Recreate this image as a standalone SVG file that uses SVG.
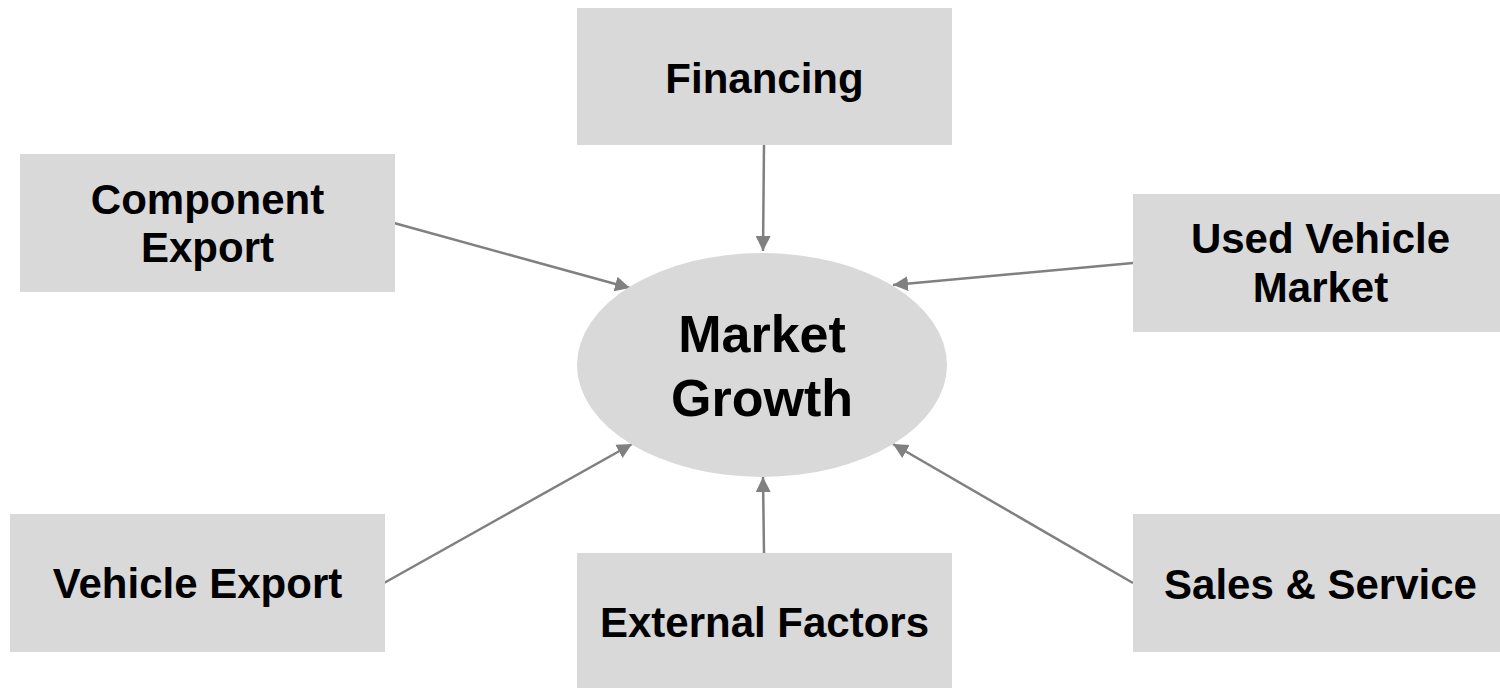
<svg xmlns="http://www.w3.org/2000/svg" width="1500" height="688" viewBox="0 0 1500 688">
<style>
.box{fill:#d9d9d9;}
.lbl{font-family:"Liberation Sans",Arial,sans-serif;font-weight:bold;font-size:42px;fill:#000;text-anchor:middle;}
.big{font-size:52px;}
.conn{stroke:#808080;stroke-width:2.5;fill:none;marker-end:url(#ah);}
</style>
<defs>
<marker id="ah" markerUnits="userSpaceOnUse" markerWidth="16" markerHeight="16" viewBox="0 0 16 16" refX="15" refY="8" orient="auto">
<path d="M0,0.5 L15,8 L0,15.5 Z" fill="#808080"/>
</marker>
</defs>
<rect width="1500" height="688" fill="#ffffff"/>
<g id="connectors">
<line class="conn" x1="764" y1="145" x2="763" y2="251"/>
<line class="conn" x1="394" y1="223" x2="630" y2="288"/>
<line class="conn" x1="1133" y1="263" x2="893" y2="285"/>
<line class="conn" x1="384" y1="583" x2="632" y2="444"/>
<line class="conn" x1="1133" y1="583" x2="893" y2="444"/>
<line class="conn" x1="764" y1="553" x2="763" y2="477"/>
</g>
<g id="market-growth">
<ellipse class="box" cx="762" cy="365" rx="185" ry="112"/>
<text class="lbl big" x="762" y="352">Market</text>
<text class="lbl big" x="762" y="416">Growth</text>
</g>
<g id="financing">
<rect class="box" x="577" y="8" width="375" height="137"/>
<text class="lbl" x="764.5" y="93">Financing</text>
</g>
<g id="component-export">
<rect class="box" x="20" y="154" width="375" height="138"/>
<text class="lbl" x="207.5" y="214">Component</text>
<text class="lbl" x="207.5" y="262">Export</text>
</g>
<g id="used-vehicle-market">
<rect class="box" x="1133" y="194" width="375" height="138"/>
<text class="lbl" x="1320.5" y="253">Used Vehicle</text>
<text class="lbl" x="1320.5" y="302">Market</text>
</g>
<g id="vehicle-export">
<rect class="box" x="10" y="514" width="375" height="138"/>
<text class="lbl" x="197.5" y="598">Vehicle Export</text>
</g>
<g id="external-factors">
<rect class="box" x="577" y="553" width="375" height="139"/>
<text class="lbl" x="764.5" y="637">External Factors</text>
</g>
<g id="sales-service">
<rect class="box" x="1133" y="514" width="375" height="138"/>
<text class="lbl" x="1320.5" y="599">Sales &amp; Service</text>
</g>
</svg>
